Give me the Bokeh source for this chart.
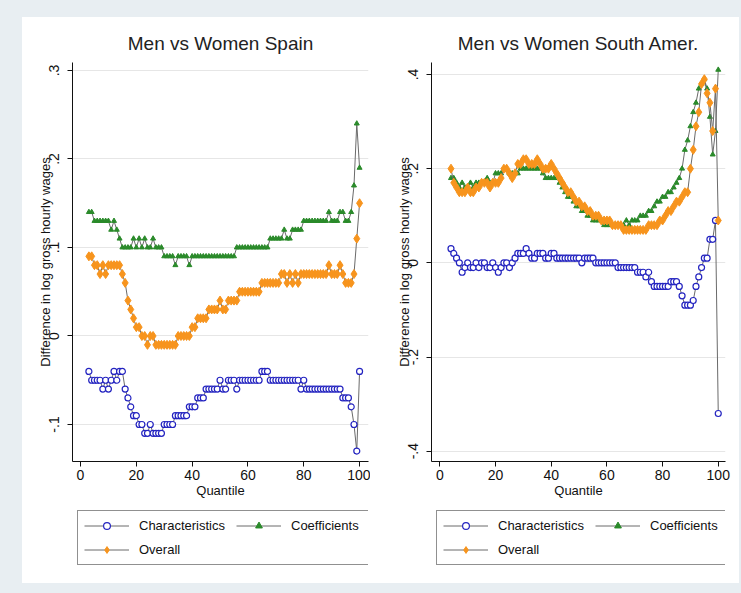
from bokeh.plotting import figure
from bokeh.models import FixedTicker, Legend, LegendItem, Spacer, Range1d
from bokeh.layouts import row, column
from bokeh.embed import file_html
from bokeh.resources import INLINE

# ---------------- data: Spain ----------------
quant_es = list(range(3, 101))
char_es = [-0.04, -0.05, -0.05, -0.05, -0.05, -0.06, -0.05, -0.06, -0.05, -0.04,
           -0.05, -0.04, -0.04, -0.06, -0.07, -0.08, -0.09, -0.09, -0.10, -0.10,
           -0.11, -0.11, -0.10, -0.11, -0.11, -0.11, -0.11, -0.10, -0.10, -0.10,
           -0.10, -0.09, -0.09, -0.09, -0.09, -0.09, -0.08, -0.08, -0.08, -0.07,
           -0.07, -0.07, -0.06, -0.06, -0.06, -0.06, -0.06, -0.05, -0.06, -0.06,
           -0.05, -0.05, -0.05, -0.06, -0.05, -0.05, -0.05, -0.05, -0.05, -0.05,
           -0.05, -0.05, -0.04, -0.04, -0.04, -0.05, -0.05, -0.05, -0.05, -0.05,
           -0.05, -0.05, -0.05, -0.05, -0.05, -0.05, -0.06, -0.05, -0.06, -0.06,
           -0.06, -0.06, -0.06, -0.06, -0.06, -0.06, -0.06, -0.06, -0.06, -0.06,
           -0.06, -0.07, -0.07, -0.07, -0.08, -0.10, -0.13, -0.04]
coef_es = [0.14, 0.14, 0.13, 0.13, 0.13, 0.13, 0.13, 0.13, 0.12, 0.13,
           0.12, 0.11, 0.10, 0.10, 0.10, 0.10, 0.11, 0.10, 0.11, 0.10,
           0.11, 0.10, 0.10, 0.11, 0.10, 0.10, 0.10, 0.09, 0.09, 0.09,
           0.09, 0.08, 0.09, 0.09, 0.09, 0.09, 0.08, 0.09, 0.09, 0.09,
           0.09, 0.09, 0.09, 0.09, 0.09, 0.09, 0.09, 0.09, 0.09, 0.09,
           0.09, 0.09, 0.09, 0.10, 0.10, 0.10, 0.10, 0.10, 0.10, 0.10,
           0.10, 0.10, 0.10, 0.10, 0.10, 0.11, 0.11, 0.11, 0.11, 0.11,
           0.12, 0.11, 0.11, 0.12, 0.12, 0.12, 0.12, 0.13, 0.13, 0.13,
           0.13, 0.13, 0.13, 0.13, 0.13, 0.13, 0.14, 0.13, 0.13, 0.13,
           0.14, 0.14, 0.13, 0.13, 0.14, 0.17, 0.24, 0.19]
over_es = [0.09, 0.09, 0.08, 0.08, 0.07, 0.08, 0.07, 0.08, 0.08, 0.08,
           0.08, 0.08, 0.07, 0.06, 0.04, 0.03, 0.02, 0.01, 0.01, 0.00,
           0.00, -0.01, 0.00, 0.00, -0.01, -0.01, -0.01, -0.01, -0.01, -0.01,
           -0.01, -0.01, 0.00, 0.00, 0.00, 0.00, 0.00, 0.01, 0.01, 0.02,
           0.02, 0.02, 0.02, 0.03, 0.03, 0.03, 0.03, 0.04, 0.03, 0.03,
           0.04, 0.04, 0.04, 0.04, 0.05, 0.05, 0.05, 0.05, 0.05, 0.05,
           0.05, 0.05, 0.06, 0.06, 0.06, 0.06, 0.06, 0.06, 0.06, 0.07,
           0.07, 0.06, 0.07, 0.06, 0.07, 0.06, 0.07, 0.07, 0.07, 0.07,
           0.07, 0.07, 0.07, 0.07, 0.07, 0.07, 0.08, 0.07, 0.07, 0.07,
           0.08, 0.07, 0.06, 0.06, 0.06, 0.07, 0.11, 0.15]

# ---------------- data: South America ----------------
quant_sa = list(range(4, 101))
char_sa = [0.03, 0.02, 0.01, 0.00, -0.02, -0.01, 0.00, -0.01, -0.01, 0.00,
           -0.01, 0.00, 0.00, -0.01, -0.01, 0.00, -0.01, -0.02, -0.01, 0.00,
           0.00, -0.01, 0.00, 0.01, 0.02, 0.02, 0.02, 0.03, 0.02, 0.01,
           0.01, 0.02, 0.02, 0.02, 0.01, 0.01, 0.02, 0.02, 0.01, 0.01,
           0.01, 0.01, 0.01, 0.01, 0.01, 0.01, 0.01, 0.00, 0.01, 0.01,
           0.01, 0.01, 0.00, 0.00, 0.00, 0.00, 0.00, 0.00, 0.00, 0.00,
           -0.01, -0.01, -0.01, -0.01, -0.01, -0.01, -0.01, -0.02, -0.02, -0.02,
           -0.03, -0.02, -0.04, -0.05, -0.05, -0.05, -0.05, -0.05, -0.05, -0.04,
           -0.04, -0.04, -0.05, -0.07, -0.09, -0.09, -0.09, -0.08, -0.05, -0.03,
           -0.01, 0.01, 0.01, 0.05, 0.05, 0.09, -0.32]
coef_sa = [0.18, 0.18, 0.17, 0.16, 0.17, 0.16, 0.16, 0.17, 0.16, 0.17,
           0.17, 0.17, 0.17, 0.18, 0.17, 0.17, 0.19, 0.19, 0.19, 0.20,
           0.20, 0.19, 0.19, 0.19, 0.19, 0.20, 0.20, 0.20, 0.20, 0.20,
           0.20, 0.20, 0.20, 0.19, 0.18, 0.18, 0.18, 0.18, 0.18, 0.17,
           0.16, 0.15, 0.14, 0.14, 0.13, 0.12, 0.12, 0.11, 0.11, 0.10,
           0.10, 0.09, 0.09, 0.09, 0.09, 0.08, 0.08, 0.08, 0.08, 0.08,
           0.08, 0.08, 0.08, 0.09, 0.08, 0.09, 0.09, 0.09, 0.10, 0.10,
           0.10, 0.11, 0.11, 0.12, 0.13, 0.13, 0.14, 0.14, 0.15, 0.15,
           0.16, 0.17, 0.18, 0.20, 0.24, 0.26, 0.29, 0.32, 0.34, 0.37,
           0.38, 0.39, 0.37, 0.31, 0.23, 0.28, 0.41]
over_sa = [0.20, 0.17, 0.16, 0.15, 0.15, 0.15, 0.16, 0.15, 0.15, 0.16,
           0.16, 0.17, 0.17, 0.17, 0.16, 0.17, 0.17, 0.17, 0.18, 0.20,
           0.20, 0.19, 0.18, 0.19, 0.21, 0.21, 0.22, 0.22, 0.21, 0.21,
           0.21, 0.22, 0.21, 0.20, 0.20, 0.20, 0.21, 0.20, 0.19, 0.18,
           0.17, 0.16, 0.15, 0.15, 0.14, 0.13, 0.13, 0.12, 0.12, 0.11,
           0.11, 0.10, 0.10, 0.10, 0.09, 0.09, 0.09, 0.09, 0.08, 0.08,
           0.08, 0.08, 0.07, 0.07, 0.07, 0.07, 0.07, 0.07, 0.07, 0.07,
           0.07, 0.08, 0.08, 0.08, 0.08, 0.09, 0.09, 0.10, 0.11, 0.11,
           0.12, 0.13, 0.13, 0.14, 0.15, 0.15, 0.20, 0.24, 0.29, 0.32,
           0.38, 0.39, 0.36, 0.34, 0.28, 0.37, 0.09]

x_ticks = [0, 20, 40, 60, 80, 100]
y_ticks_es = [-0.1, 0.0, 0.1, 0.2, 0.3]
y_labels_es = ["-.1", "0", ".1", ".2", ".3"]
y_ticks_sa = [-0.4, -0.2, 0.0, 0.2, 0.4]
y_labels_sa = ["-.4", "-.2", "0", ".2", ".4"]
series_names = ["Characteristics", "Coefficients", "Overall"]

FONT = "Liberation Sans"
BLUE = "#2424c0"
GREEN = "#2a8a2a"
ORANGE = "#f7941d"
LINEC = "#6a6a6a"


def draw_series(p, q, ch, co, ov):
    l1 = p.line(q, ch, line_color=LINEC, line_width=1)
    s1 = p.scatter(q, ch, marker="circle", size=6, line_color=BLUE, fill_color="white", line_width=1.2)
    l2 = p.line(q, co, line_color=LINEC, line_width=1)
    s2 = p.scatter(q, co, marker="triangle", size=5, line_color=GREEN, fill_color=GREEN)
    l3 = p.line(q, ov, line_color=LINEC, line_width=1)
    s3 = p.scatter(q, ov, marker="diamond", size=9, line_color=ORANGE, fill_color=ORANGE)
    return [(l1, s1), (l2, s2), (l3, s3)]


def make_panel(title, q, ch, co, ov, xr, yr, yticks, ylabels, width, bl, br):
    p = figure(width=width, height=488, x_range=Range1d(*xr), y_range=Range1d(*yr),
               output_backend="svg", toolbar_location=None, title=title,
               min_border_left=bl, min_border_right=br, min_border_top=45,
               min_border_bottom=44)
    p.outline_line_color = None
    p.background_fill_color = "white"
    p.border_fill_color = "white"
    p.title.align = "center"
    p.title.text_font = FONT
    p.title.text_font_size = "19px"
    p.title.text_font_style = "normal"
    p.title.text_color = "#222222"
    p.title.standoff = 18

    draw_series(p, q, ch, co, ov)

    p.xgrid.visible = False
    p.ygrid.grid_line_color = "#e6e6e6"
    p.xaxis.ticker = FixedTicker(ticks=x_ticks)
    p.yaxis.ticker = FixedTicker(ticks=yticks)
    p.yaxis.major_label_overrides = {t: s for t, s in zip(yticks, ylabels)}
    p.yaxis.major_label_orientation = "vertical"
    for ax in (p.xaxis, p.yaxis):
        ax.axis_line_color = "#111111"
        ax.major_tick_line_color = "#111111"
        ax.major_tick_out = 5
        ax.major_tick_in = 0
        ax.minor_tick_line_color = None
        ax.major_label_text_font = FONT
        ax.major_label_text_font_size = "14px"
        ax.major_label_text_color = "#111111"
        ax.axis_label_text_font = FONT
        ax.axis_label_text_font_size = "13px"
        ax.axis_label_text_font_style = "normal"
        ax.axis_label_text_color = "#111111"
    p.xaxis.axis_label = "Quantile"
    p.xaxis.major_label_standoff = 3
    p.xaxis.axis_label_standoff = 0
    p.yaxis.axis_label = "Difference in log gross hourly wages"
    p.yaxis.major_label_standoff = 8
    p.yaxis.axis_label_standoff = -6
    return p


def make_legend_fig(width, bl, br, q, ch, co, ov):
    # the series are drawn far outside the visible range: only the legend shows
    f = figure(width=width, height=78, x_range=Range1d(-1001, -1000), y_range=Range1d(-1001, -1000),
               output_backend="svg", toolbar_location=None,
               min_border_left=bl, min_border_right=br, min_border_top=0,
               min_border_bottom=0)
    f.axis.visible = False
    f.grid.visible = False
    f.outline_line_color = None
    f.border_fill_color = "white"
    f.background_fill_color = "white"
    pairs = draw_series(f, q, ch, co, ov)
    items = [LegendItem(label=n, renderers=list(r)) for n, r in zip(series_names, pairs)]
    leg = Legend(items=items, orientation="horizontal", nrows=2, location="top_left",
                 glyph_width=45, glyph_height=17, label_standoff=10, label_width=90,
                 spacing=7, padding=6, margin=5, border_line_color="#222222",
                 border_line_width=1, label_text_font=FONT, label_text_font_size="13px",
                 label_text_color="#111111", background_fill_color="white")
    f.add_layout(leg)
    return f


p1 = make_panel("Men vs Women Spain", quant_es, char_es, coef_es, over_es,
                (-2.87, 103.2), (-0.1418, 0.309), y_ticks_es, y_labels_es, 348, 50, 2)
p2 = make_panel("Men vs Women South Amer.", quant_sa, char_sa, coef_sa, over_sa,
                (-3.0, 102.6), (-0.4219, 0.4255), y_ticks_sa, y_labels_sa, 369, 61, 14)
g1 = make_legend_fig(348, 50, 2, quant_es, char_es, coef_es, over_es)
g2 = make_legend_fig(369, 61, 14, quant_sa, char_sa, coef_sa, over_sa)

panels = row(column(p1, g1), column(p2, g2), styles={"background-color": "white"})
layout = column(Spacer(width=739, height=17),
                row(Spacer(width=22, height=566), panels))
html = file_html(layout, INLINE)
html = html.replace("</head>", "<style>html,body{margin:0;padding:0;background-color:#e8eef2;}</style></head>", 1)
open("out.html", "w").write(html)
